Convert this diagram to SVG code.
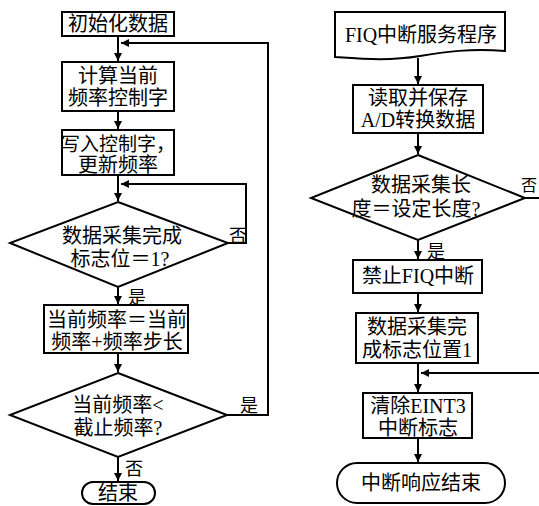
<svg xmlns="http://www.w3.org/2000/svg" width="539" height="506" viewBox="0 0 539 506">
<defs>
<style>
.b{fill:#fff;stroke:#000;stroke-width:2}
.t{font-family:"Liberation Serif","Noto Sans CJK SC",serif;font-size:20px;text-anchor:middle;fill:#000}
.s{font-size:19px}
.l{font-family:"Liberation Serif","Noto Sans CJK SC",serif;font-size:18px;fill:#000}
.c{fill:none;stroke:#000;stroke-width:2}
</style>
<marker id="a" viewBox="0 0 10 10" refX="10" refY="5" markerWidth="9" markerHeight="8" orient="auto" markerUnits="userSpaceOnUse">
<path d="M0,0 L10,5 L0,10 z" fill="#000"/>
</marker>
</defs>
<rect width="539" height="506" fill="#fff"/>
<g id="connectors">
<path class="c" d="M118,36 V61" marker-end="url(#a)"/>
<path class="c" d="M118,111 V129" marker-end="url(#a)"/>
<path class="c" d="M118,175 V201" marker-end="url(#a)"/>
<path class="c" d="M228,243 H246 V184 H121" marker-end="url(#a)"/>
<path class="c" d="M118,287 V304" marker-end="url(#a)"/>
<path class="c" d="M118,353 V372" marker-end="url(#a)"/>
<path class="c" d="M227,415 H268 V43 H121" marker-end="url(#a)"/>
<path class="c" d="M118,457 V481" marker-end="url(#a)"/>
<path class="c" d="M418,58 V84" marker-end="url(#a)"/>
<path class="c" d="M418,133 V154" marker-end="url(#a)"/>
<path class="c" d="M525,198 H539"/>
<path class="c" d="M418,240 V259" marker-end="url(#a)"/>
<path class="c" d="M418,293 V312" marker-end="url(#a)"/>
<path class="c" d="M418,363 V392" marker-end="url(#a)"/>
<path class="c" d="M539,373 H421" marker-end="url(#a)"/>
<path class="c" d="M418,438 V462" marker-end="url(#a)"/>
<text class="l" x="229" y="242">否</text>
<text class="l" x="128" y="304">是</text>
<text class="l" x="240" y="412">是</text>
<text class="l" x="125" y="475">否</text>
<text class="l" x="521" y="191" style="font-size:16px">否</text>
<text class="l" x="427" y="258">是</text>
</g>
<g id="n1"><rect class="b" x="62" y="12" width="112" height="24"/><text class="t" x="118" y="31">初始化数据</text></g>
<g id="n2"><rect class="b" x="62" y="62" width="112" height="49"/><text class="t" x="118" y="83">计算当前</text><text class="t" x="118" y="105">频率控制字</text></g>
<g id="n3"><rect class="b" x="62" y="130" width="112" height="45"/><text class="t s" x="118" y="151">写入控制字，</text><text class="t" x="118" y="172">更新频率</text></g>
<g id="n4"><polygon class="b" points="118,202 228,243 118,287 10,243"/><text class="t" x="122" y="243">数据采集完成</text><text class="t" x="120" y="266">标志位＝1?</text></g>
<g id="n5"><rect class="b" x="44" y="305" width="144" height="48"/><text class="t" x="117" y="327">当前频率＝当前</text><text class="t" x="117" y="349">频率+频率步长</text></g>
<g id="n6"><polygon class="b" points="118,373 227,415 118,457 10,415"/><text class="t" x="118" y="412">当前频率&lt;</text><text class="t" x="118" y="435">截止频率?</text></g>
<g id="n7"><rect class="b" x="82" y="482" width="73" height="22" rx="11"/><text class="t" x="118" y="500">结束</text></g>
<g id="r1"><path class="b" d="M335,12 H505 V51 C470,48 445,52 420,56 C390,61 365,59 335,57 Z"/><text class="t" x="421" y="42">FIQ中断服务程序</text></g>
<g id="r2"><rect class="b" x="353" y="85" width="130" height="48"/><text class="t" x="418" y="105">读取并保存</text><text class="t" x="418" y="127">A/D转换数据</text></g>
<g id="r3"><polygon class="b" points="418,155 525,198 418,240 311,198"/><text class="t" x="421" y="192">数据采集长</text><text class="t" x="416" y="216">度＝设定长度?</text></g>
<g id="r4"><rect class="b" x="353" y="260" width="129" height="33"/><text class="t" x="418" y="283">禁止FIQ中断</text></g>
<g id="r5"><rect class="b" x="356" y="313" width="122" height="50"/><text class="t" x="417" y="334">数据采集完</text><text class="t" x="417" y="357">成标志位置1</text></g>
<g id="r6"><rect class="b" x="363" y="393" width="109" height="45"/><text class="t" x="418" y="413">清除EINT3</text><text class="t" x="418" y="435">中断标志</text></g>
<g id="r7"><rect class="b" x="337" y="463" width="168" height="40" rx="20"/><text class="t" x="421" y="490">中断响应结束</text></g>
</svg>
